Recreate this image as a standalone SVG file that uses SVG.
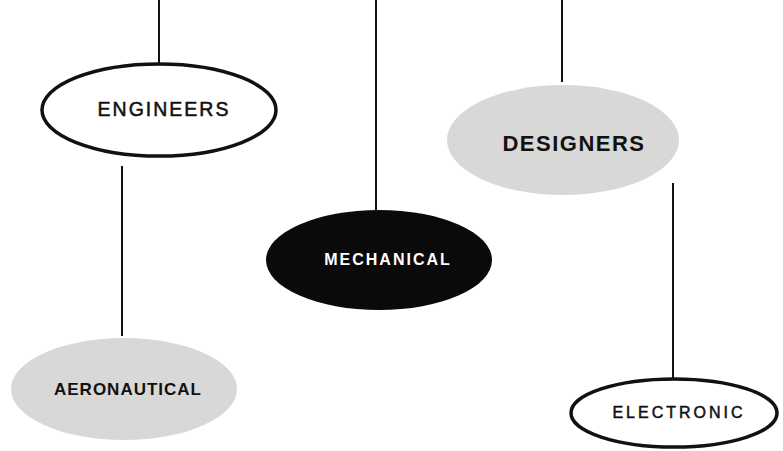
<svg xmlns="http://www.w3.org/2000/svg" width="783" height="451" viewBox="0 0 783 451">
<style>
.ln{stroke:#111;stroke-width:2;fill:none}
.out{fill:#fff;stroke:#111;stroke-width:3.5}
.gray{fill:#d8d8d6;stroke:none}
.blk{fill:#0a0a0a;stroke:none}
.t{font-family:"Liberation Sans",Arial,sans-serif;text-anchor:middle}
.reg{fill:#111;stroke:#111;stroke-width:0.5}
</style>
<rect width="783" height="451" fill="#fff"/>
<g id="connectors">
<line class="ln" x1="159" y1="0" x2="159" y2="63"/>
<line class="ln" x1="122" y1="166" x2="122" y2="336"/>
<line class="ln" x1="376" y1="0" x2="376" y2="210"/>
<line class="ln" x1="562" y1="0" x2="562" y2="82"/>
<line class="ln" x1="673" y1="183" x2="673" y2="378"/>
</g>
<g id="engineers">
<ellipse class="out" cx="159" cy="110" rx="117" ry="46"/>
<text class="t reg" x="164" y="116" font-size="19.5" letter-spacing="2">ENGINEERS</text>
</g>
<g id="designers">
<ellipse class="gray" cx="563" cy="140" rx="116" ry="55"/>
<text class="t" x="574" y="151" font-size="22" font-weight="bold" letter-spacing="1.5" fill="#111">DESIGNERS</text>
</g>
<g id="mechanical">
<ellipse class="blk" cx="379" cy="260" rx="113" ry="50"/>
<text class="t" x="388" y="265" font-size="16" font-weight="bold" letter-spacing="2" fill="#fff">MECHANICAL</text>
</g>
<g id="aeronautical">
<ellipse class="gray" cx="124" cy="389" rx="113" ry="51"/>
<text class="t" x="128" y="395" font-size="17" font-weight="bold" letter-spacing="1" fill="#111">AERONAUTICAL</text>
</g>
<g id="electronic">
<ellipse class="out" cx="674" cy="413" rx="103" ry="34"/>
<text class="t reg" x="679" y="418" font-size="16" letter-spacing="3">ELECTRONIC</text>
</g>
</svg>
